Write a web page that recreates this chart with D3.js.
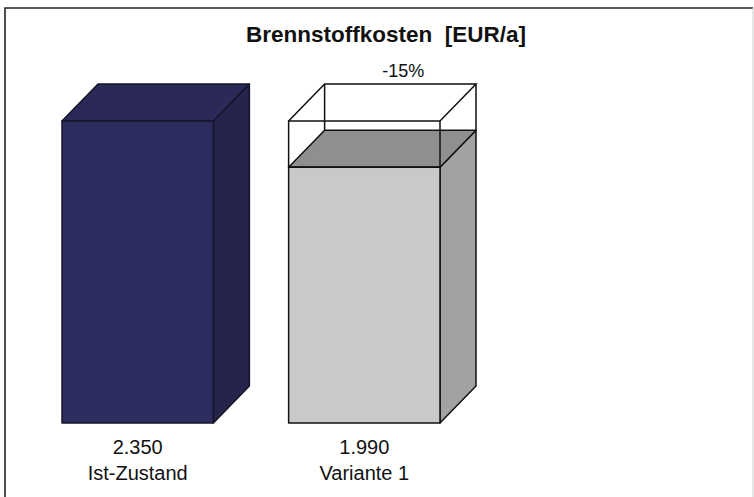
<!DOCTYPE html>
<html><head><meta charset="utf-8">
<script src="https://cdn.jsdelivr.net/npm/d3@7"></script>
<style>html,body{margin:0;padding:0;background:#fff;}svg{display:block;}</style>
</head><body>
<script>
const categories = ["Ist-Zustand", "Variante 1"];
const values = [2350, 1990];
const valueLabels = ["2.350", "1.990"];
const changeLabel = "-15%";
const title = "Brennstoffkosten\u00a0\u00a0[EUR/a]";

const W = 754, H = 497;
const svg = d3.select("body").append("svg").attr("width", W).attr("height", H);

// frame (left and top dark, right faint)
svg.append("path").attr("d", "M5,497L5,8L753,8").attr("fill", "none")
  .attr("stroke", "#222").attr("stroke-width", 1.6);
svg.append("path").attr("d", "M753,8L753,497").attr("fill", "none")
  .attr("stroke", "#ccc").attr("stroke-width", 1);

const x = d3.scaleBand().domain(categories).range([62, 440]).paddingInner(0.332).paddingOuter(0);
const y = d3.scaleLinear().domain([0, 2350]).range([423, 121]);
const dx = 36, dy = 37;
const bw = x.bandwidth();

const styles = [
  {front: "#2d2c5f", top: "#2a2958", side: "#25244d", stroke: "#15152a"},
  {front: "#c9c9c9", top: "#8f8f8f", side: "#a2a2a2", stroke: "#111"}
];

categories.forEach((c, i) => {
  const x0 = x(c), x1 = x0 + bw, y0 = y(0), yt = y(values[i]);
  const s = styles[i];
  const g = svg.append("g").attr("stroke", s.stroke).attr("stroke-width", 1.5).attr("stroke-linejoin", "round");
  g.append("path").attr("fill", s.side)
    .attr("d", `M${x1},${yt}L${x1+dx},${yt-dy}L${x1+dx},${y0-dy}L${x1},${y0}Z`);
  g.append("path").attr("fill", s.top)
    .attr("d", `M${x0},${yt}L${x0+dx},${yt-dy}L${x1+dx},${yt-dy}L${x1},${yt}Z`);
  g.append("rect").attr("fill", s.front).attr("x", x0).attr("y", yt).attr("width", bw).attr("height", y0 - yt);

  svg.append("text").attr("x", x0 + bw/2).attr("y", 454).attr("text-anchor", "middle")
    .attr("font-family", "Liberation Sans, Arial, sans-serif").attr("font-size", 20).attr("fill", "#111")
    .text(valueLabels[i]);
  svg.append("text").attr("x", x0 + bw/2).attr("y", 480).attr("text-anchor", "middle")
    .attr("font-family", "Liberation Sans, Arial, sans-serif").attr("font-size", 20).attr("fill", "#111")
    .text(c);
});

// wireframe of the reference value on the second bar
{
  const c = categories[1];
  const x0 = x(c), x1 = x0 + bw, yb = y(values[1]), yt = y(values[0]);
  const g = svg.append("g").attr("stroke", "#111").attr("stroke-width", 1.5).attr("fill", "none");
  g.append("rect").attr("x", x0).attr("y", yt).attr("width", bw).attr("height", yb - yt);
  g.append("path").attr("d",
    `M${x0},${yt}L${x0+dx},${yt-dy}L${x1+dx},${yt-dy}L${x1},${yt}` +
    `M${x1+dx},${yt-dy}L${x1+dx},${yb-dy}` +
    `M${x0+dx},${yt-dy}L${x0+dx},${yb-dy}`);
  svg.append("text").attr("x", x0 + bw/2 + dx + 3).attr("y", 77).attr("text-anchor", "middle")
    .attr("font-family", "Liberation Sans, Arial, sans-serif").attr("font-size", 18).attr("fill", "#111")
    .text(changeLabel);
}

svg.append("text").attr("x", 386).attr("y", 42).attr("text-anchor", "middle")
  .attr("font-family", "Liberation Sans, Arial, sans-serif").attr("font-size", 22.5).attr("font-weight", "bold")
  .attr("fill", "#111").text(title);
</script>
</body></html>
